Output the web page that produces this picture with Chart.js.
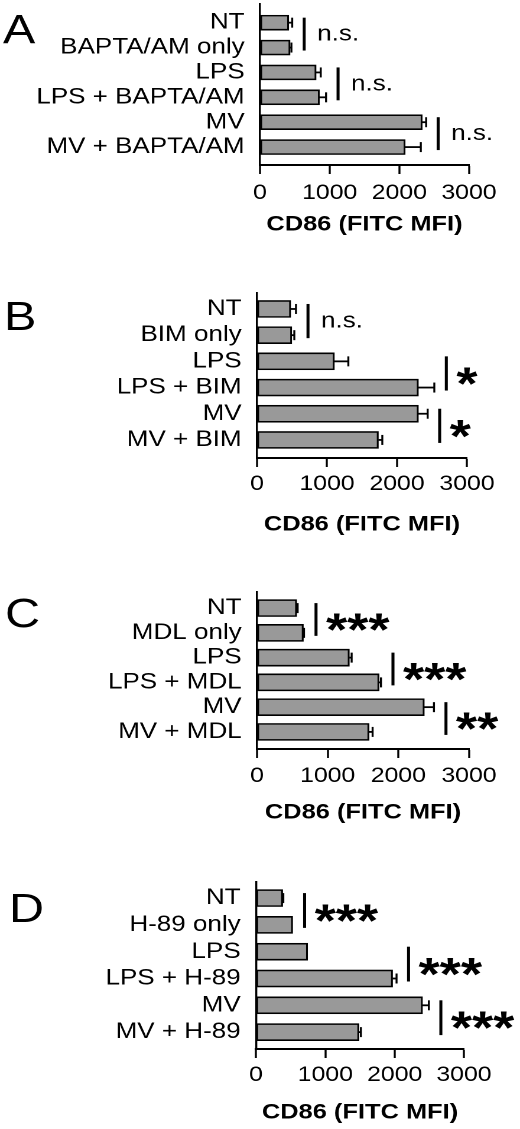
<!DOCTYPE html>
<html>
<head>
<meta charset="utf-8">
<script src="https://cdn.jsdelivr.net/npm/chart.js@4.4.0/dist/chart.umd.min.js"></script>
<style>
  html, body { margin: 0; padding: 0; background: #fff; }
  #fig { position: relative; width: 520px; height: 1129px; overflow: hidden; }
  #fig canvas { position: absolute; left: 0; }
</style>
</head>
<body>
<div id="fig"></div>
<script>
// shared axis
const xTicks = [0, 1000, 2000, 3000];
const axisTitle = 'CD86 (FITC MFI)';

// panel A
const labelsA = ['NT', 'BAPTA/AM only', 'LPS', 'LPS + BAPTA/AM', 'MV', 'MV + BAPTA/AM'];
const meanA = [412, 431, 805, 853, 2328, 2083];
const semA = [50, 20, 67, 95, 57, 225];
const sigA = ['n.s.', 'n.s.', 'n.s.'];

// panel B
const labelsB = ['NT', 'BIM only', 'LPS', 'LPS + BIM', 'MV', 'MV + BIM'];
const meanB = [481, 496, 1105, 2305, 2305, 1733];
const semB = [76, 37, 200, 228, 133, 57];
const sigB = ['n.s.', '*', '*'];

// panel C
const labelsC = ['NT', 'MDL only', 'LPS', 'LPS + MDL', 'MV', 'MV + MDL'];
const meanC = [561, 655, 1306, 1726, 2367, 1584];
const semC = [14, 10, 33, 28, 137, 52];
const sigC = ['***', '***', '**'];

// panel D
const labelsD = ['NT', 'H-89 only', 'LPS', 'LPS + H-89', 'MV', 'MV + H-89'];
const meanD = [384, 528, 744, 1969, 2401, 1484];
const semD = [10, 0, 0, 58, 92, 29];
const sigD = ['***', '***', '***'];

const FAMILY = '"Liberation Sans", Arial, Helvetica, sans-serif';
const W = 440;            // drawing width, the figure is stretched sideways to 520
const S = 520 / W;
const LH = 21 * 1.2;

const panels = [
  { letter: 'A', labels: labelsA, mean: meanA, sem: semA, sig: sigA,
    top: 0, h: 270, areaTop: 4, areaBottom: 165, x0: 260, x1: 469,
    tickMid: 193, titleMid: 225, bar: 15, yMin: -0.75, yMax: 5.72, letterX: 3, letterY: 43 },
  { letter: 'B', labels: labelsB, mean: meanB, sem: semB, sig: sigB,
    top: 270, h: 280, areaTop: 23, areaBottom: 188, x0: 257, x1: 467,
    tickMid: 214, titleMid: 255, bar: 17, yMin: -0.61, yMax: 5.69, letterX: 4, letterY: 60 },
  { letter: 'C', labels: labelsC, mean: meanC, sem: semC, sig: sigC,
    top: 550, h: 280, areaTop: 42, areaBottom: 199, x0: 257, x1: 469,
    tickMid: 226, titleMid: 263, bar: 17, yMin: -0.65, yMax: 5.69, letterX: 5, letterY: 77 },
  { letter: 'D', labels: labelsD, mean: meanD, sem: semD, sig: sigD,
    top: 830, h: 299, areaTop: 52, areaBottom: 219, x0: 256, x1: 464,
    tickMid: 245, titleMid: 283, bar: 17, yMin: -0.6, yMax: 5.63, letterX: 9, letterY: 92 }
];

function line(ctx, xa, ya, xb, yb) {
    ctx.beginPath();
    ctx.moveTo(xa, ya);
    ctx.lineTo(xb, yb);
    ctx.stroke();
}

// error bars, significance brackets and the panel letter
function makeDecor(p) {
    return {
        id: 'decor',
        afterDatasetsDraw(chart) {
            const ctx = chart.ctx;
            const xs = chart.scales.x;
            const ys = chart.scales.y;
            ctx.save();
            ctx.strokeStyle = '#000';
            ctx.fillStyle = '#000';

            p.mean.forEach((m, i) => {
                if (!p.sem[i]) return;
                const xa = xs.getPixelForValue(m);
                const xb = xs.getPixelForValue(m + p.sem[i]);
                const y = ys.getPixelForValue(i);
                ctx.lineWidth = 1.8;
                line(ctx, xa, y, xb, y);
                ctx.lineWidth = 2 / S;
                line(ctx, xb, y - 5, xb, y + 5);
            });

            p.sig.forEach((txt, k) => {
                const i0 = 2 * k, i1 = 2 * k + 1;
                const end = Math.max(
                    xs.getPixelForValue(p.mean[i0] + p.sem[i0]),
                    xs.getPixelForValue(p.mean[i1] + p.sem[i1])
                );
                const bx = end + 12 / S;
                const y0 = ys.getPixelForValue(i0);
                const y1 = ys.getPixelForValue(i1);
                ctx.lineWidth = 3 / S;
                line(ctx, bx, y0 - 5, bx, y1 + 3);
                const mid = (y0 + y1) / 2;
                ctx.textAlign = 'left';
                ctx.textBaseline = 'alphabetic';
                if (txt === 'n.s.') {
                    ctx.font = '22px ' + FAMILY;
                    ctx.fillText(txt, bx + 13 / S, mid + 5.5);
                } else {
                    ctx.font = 'bold 46px ' + FAMILY;
                    ctx.fillText(txt, bx + 10 / S, mid + 25);
                }
            });

            ctx.font = '41px ' + FAMILY;
            ctx.textAlign = 'left';
            ctx.textBaseline = 'alphabetic';
            ctx.fillText(p.letter, p.letterX / S, p.letterY);
            ctx.restore();
        }
    };
}

const fig = document.getElementById('fig');

panels.forEach(p => {
    const canvas = document.createElement('canvas');
    canvas.width = W;
    canvas.height = p.h;
    canvas.style.width = '520px';
    canvas.style.height = p.h + 'px';
    canvas.style.top = p.top + 'px';
    fig.appendChild(canvas);

    new Chart(canvas, {
        type: 'bar',
        data: {
            datasets: [{
                data: p.mean.map((v, i) => ({ x: v, y: i })),
                backgroundColor: '#999999',
                borderColor: '#000000',
                borderWidth: 1.6,
                borderSkipped: false,
                barThickness: p.bar
            }]
        },
        options: {
            indexAxis: 'y',
            responsive: false,
            animation: false,
            devicePixelRatio: 2,
            events: [],
            layout: {
                padding: {
                    left: 0,
                    top: p.areaTop,
                    right: W - p.x1 / S,
                    bottom: p.h - p.titleMid - LH / 2
                }
            },
            plugins: {
                legend: { display: false },
                tooltip: { enabled: false }
            },
            scales: {
                x: {
                    type: 'linear',
                    position: 'bottom',
                    min: 0,
                    max: 3000,
                    bounds: 'data',
                    offset: false,
                    afterBuildTicks: s => { s.ticks = xTicks.map(v => ({ value: v })); },
                    afterFit: s => {
                        s.height = p.titleMid + LH / 2 - p.areaBottom;
                        s.paddingLeft = 0;
                        s.paddingRight = 0;
                    },
                    grid: {
                        display: true,
                        drawOnChartArea: false,
                        drawTicks: true,
                        tickLength: 9,
                        tickWidth: 2 / S,
                        tickColor: '#000'
                    },
                    border: { display: true, color: '#000', width: 2 },
                    ticks: {
                        color: '#000',
                        font: { family: FAMILY, size: 21 },
                        padding: p.tickMid - p.areaBottom - 9 - LH / 2,
                        maxRotation: 0,
                        autoSkip: false,
                        callback: v => String(v)
                    },
                    title: {
                        display: true,
                        text: axisTitle,
                        color: '#000',
                        font: { family: FAMILY, size: 21.5, weight: 'bold', lineHeight: 1.2 },
                        padding: 0
                    }
                },
                y: {
                    type: 'linear',
                    reverse: true,
                    min: p.yMin,
                    max: p.yMax,
                    bounds: 'data',
                    offset: false,
                    afterBuildTicks: s => { s.ticks = p.labels.map((_, i) => ({ value: i })); },
                    afterFit: s => {
                        s.width = p.x0 / S;
                        s.paddingTop = 0;
                        s.paddingBottom = 0;
                    },
                    grid: { display: false, drawTicks: false, offset: false },
                    border: { display: true, color: '#000', width: 2 / S },
                    ticks: {
                        color: '#000',
                        font: { family: FAMILY, size: 22, lineHeight: 0.3 },
                        padding: 13,
                        autoSkip: false,
                        callback: v => p.labels[v]
                    }
                }
            }
        },
        plugins: [makeDecor(p)]
    });
});
</script>
</body>
</html>
